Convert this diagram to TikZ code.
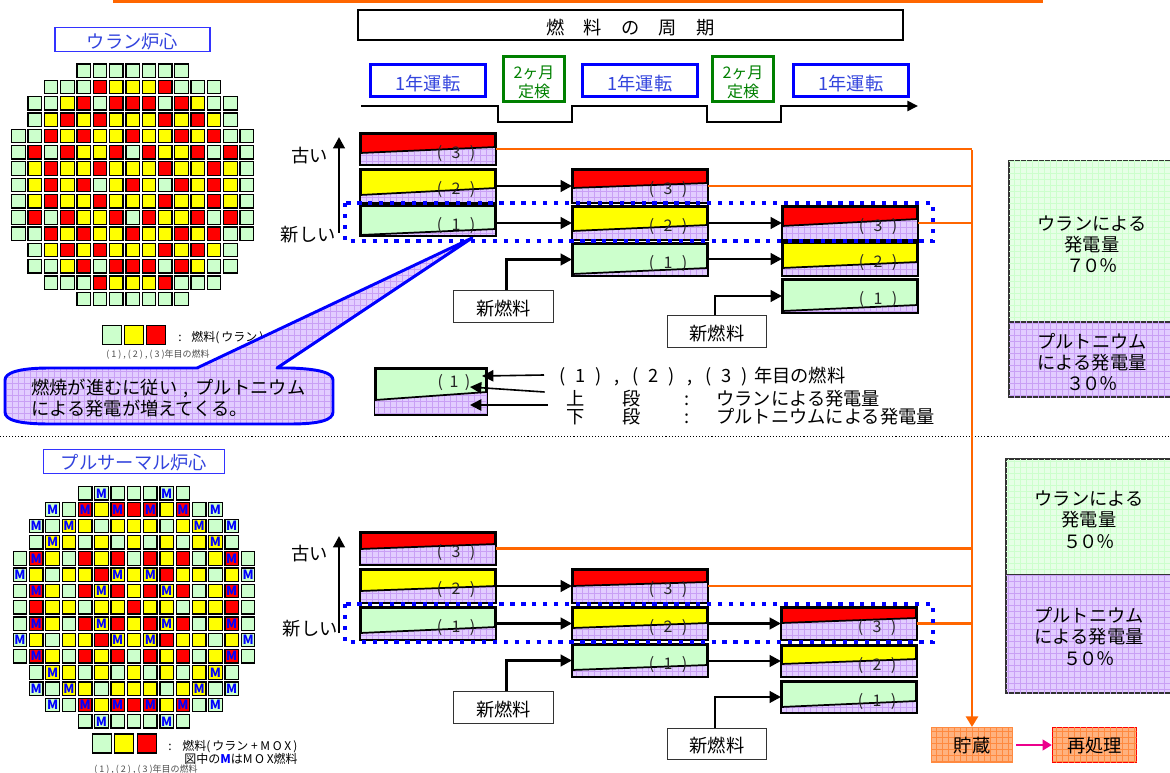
\documentclass[tikz,border=0pt]{standalone}
\usepackage{fontspec}
\setmainfont{Noto Sans CJK JP}
\usepackage{xcolor}
\usetikzlibrary{arrows.meta, patterns.meta, calc}
\definecolor{cOrange}    {HTML}{FF6600}
\definecolor{cBlue}      {HTML}{0000FF}
\definecolor{cTitleBlue} {HTML}{3344DD}
\definecolor{cOlive}     {HTML}{008000}
\definecolor{cGreen}     {HTML}{CCFFCC}
\definecolor{cPaleGreen} {HTML}{E6FFE6}
\definecolor{cGreenGrid} {HTML}{CCFFCC}
\definecolor{cYellow}    {HTML}{FFFF00}
\definecolor{cRed}       {HTML}{FF0000}
\definecolor{cPurple}    {HTML}{E2CDFF}
\definecolor{cPurpleGrid}{HTML}{C9A0F5}
\definecolor{cPeach}     {HTML}{FFB27F}
\definecolor{cPeachGrid} {HTML}{FF8A40}
\newcommand{\zc}[1]{\makebox[1em]{#1}}
\newcommand{\zp}[1]{\makebox[.9em]{#1}}
\newcommand{\zf}[1]{\makebox[1.03em]{#1}}
\newcommand{\zn}[1]{\makebox[.85em]{#1}}
\tikzset{
  gridfill/.style n args={3}{fill=#1,
    postaction={pattern={Lines[angle=0,distance=4.5pt,line width=.3pt]},pattern color=#2},
    postaction={pattern={Lines[angle=90,distance=4.5pt,line width=.3pt]},pattern color=#3}},
  gridpurple/.style={gridfill={cPurple}{cPurpleGrid}{cPurpleGrid}},
  gridgreen/.style={gridfill={cPaleGreen}{cGreenGrid}{cGreenGrid}},
  gridpeach/.style={gridfill={cPeach}{cPeachGrid}{cPeachGrid}},
  txtplain/.style={font=\fontsize{13.7}{16}\selectfont, inner sep=0pt},
  txtbig/.style={txtplain, text height=10.8pt, text depth=0pt},
  txtmid/.style={font=\fontsize{9}{11}\selectfont, inner sep=0pt, text height=7.5pt, text depth=0pt},
  txtsmall/.style={font=\fontsize{6.75}{8}\selectfont, inner sep=0pt, text=black!70, text height=5.5pt, text depth=0pt},
  cellbase/.style={draw=black, line width=.95pt, minimum size=10.1pt, inner sep=0pt},
  cellg/.style={cellbase, fill=cGreen},
  celly/.style={cellbase, fill=cYellow},
  cellr/.style={cellbase, fill=cRed},
  cellmark/.style={text=cBlue, font=\fontsize{9.5}{9.5}\selectfont\bfseries, inner sep=0pt},
  cellG/.style={cellg, label={[cellmark]center:M}},
  cellY/.style={celly, label={[cellmark]center:M}},
  cellR/.style={cellr, label={[cellmark]center:M}},
  keycell/.style={draw=black, line width=1.1pt, minimum size=14pt, inner sep=0pt},
  corelabel/.style={txtbig, draw=cBlue!80, line width=1.1pt, text=cTitleBlue, minimum height=18pt, text height=14pt},
  runbox/.style={txtbig, draw=cBlue, line width=2.2pt, text=cTitleBlue, minimum width=86pt, minimum height=24pt, text height=14.6pt},
  checkbox/.style={font=\fontsize{12}{14.3}\selectfont, inner sep=0pt, align=center, draw=cOlive,
    line width=1.8pt, text=cOlive, minimum width=46pt, minimum height=34pt},
  fuelcase/.style={draw=black, line width=1.5pt, inner sep=0pt, minimum width=100.5pt},
  fuelframe/.style={draw=black, line width=1.5pt},
  fuelsplit/.style={draw=black, line width=1.3pt},
  fuelnum/.style={font=\fontsize{12}{14}\selectfont, inner sep=0pt, text=black!85, text height=8.8pt, text depth=0pt},
  newfuel/.style={txtbig, draw=black!80, fill=white, line width=.9pt, minimum width=74.8pt, minimum height=23.5pt, text height=13pt},
  fuelarrow/.style={draw=black, line width=2.1pt, -{Triangle[length=8.5pt,width=8.5pt]}},
  thinarrow/.style={draw=black, line width=1.2pt, -{Triangle[length=8.5pt,width=8.5pt]}},
  spentline/.style={draw=cOrange, line width=2.2pt},
  loopdots/.style={draw=cBlue, line width=3pt, dash pattern=on 3.2pt off 5pt},
  sharebox/.style={txtplain, draw=black!80, line width=.9pt, align=center, text width=110pt,
    minimum width=124.5pt},
  planbox/.style={txtbig, line width=1pt, minimum height=26pt, minimum width=61pt},
}
\begin{document}
\begin{tikzpicture}[x=0.75pt, y=-0.75pt]
  \useasboundingbox (0,0) rectangle (1170,773);
  % top rule and divider
  \coordinate (ruleL) at (113,1.5);
  \coordinate (ruleR) at (1043,1.5);
  \draw[cOrange, line width=2.2pt] (ruleL) -- (ruleR);
  \coordinate (divL) at (0,436.5);
  \coordinate (divR) at (1170,436.5);
  \draw[black, line width=.7pt, dash pattern=on .8pt off 1.5pt] (divL) -- (divR);
  % uranium core
  \node[corelabel, minimum width=116pt] (coreU) at (132.5,39.5) {ウラン炉心};
  \foreach \rr/\cs/\cells in {
    0/4/{g,g,g,g,g,g,g},
    1/2/{g,g,g,r,y,y,y,r,g,g,g},
    2/1/{g,g,y,r,g,r,r,r,g,r,y,g,g},
    3/1/{g,y,r,y,r,y,y,y,r,y,r,y,g},
    4/0/{g,g,r,y,r,y,y,r,y,y,r,y,r,g,g},
    5/0/{g,r,g,r,y,y,r,g,r,y,y,r,g,r,g},
    6/0/{g,y,r,y,y,r,y,y,y,r,y,y,r,y,g},
    7/0/{g,y,r,y,r,g,y,r,y,g,r,y,r,y,g},
    8/0/{g,y,r,y,y,r,y,y,y,r,y,y,r,y,g},
    9/0/{g,r,g,r,y,y,r,g,r,y,y,r,g,r,g},
    10/0/{g,g,r,y,r,y,y,r,y,y,r,y,r,g,g},
    11/1/{g,y,r,y,r,y,y,y,r,y,r,y,g},
    12/1/{g,g,y,r,g,r,r,r,g,r,y,g,g},
    13/2/{g,g,g,r,y,y,y,r,g,g,g},
    14/4/{g,g,g,g,g,g,g}}{
    \foreach \cc [count=\ii from \cs] in \cells {
      \node[cell\cc] (u\rr-\ii) at ({18.5+16.3*\ii},{70.8+16.3*\rr}) {};
    }
  }
  \foreach \cc/\xx [count=\ii] in {cGreen/112, cYellow/134, cRed/156}{
    \node[keycell, fill=\cc] (keyU\ii) at (\xx,335) {};
  }
  \node[txtmid] (keyUdot) at (180,337) {:};
  \node[txtmid, anchor=west] (keyUtxt) at (191,337) {燃料(\,ウラン\,)};
  \node[txtsmall, anchor=west] (keyUyear) at (106,354) {( 1 ) , ( 2 ) , ( 3 )年目の燃料};
  % MOX core
  \node[corelabel, minimum width=136pt, text height=12.5pt] (coreM) at (134,461.5) {プルサーマル炉心};
  \foreach \rr/\cs/\cells in {
    0/4/{g,G,g,g,g,G,g},
    1/2/{G,g,R,y,R,r,R,y,R,g,G},
    2/1/{G,g,Y,y,g,y,y,y,g,y,Y,g,G},
    3/1/{g,Y,y,g,y,g,y,g,y,g,y,Y,g},
    4/0/{g,R,y,g,r,y,r,g,r,y,r,g,y,R,g},
    5/0/{G,y,g,y,y,r,Y,y,Y,r,y,y,g,y,G},
    6/0/{g,R,y,g,r,Y,r,y,r,Y,r,g,y,R,g},
    7/0/{g,r,y,y,g,y,y,r,y,y,g,y,y,r,g},
    8/0/{g,R,y,g,r,Y,r,y,r,Y,r,g,y,R,g},
    9/0/{G,y,g,y,y,r,Y,y,Y,r,y,y,g,y,G},
    10/0/{g,R,y,g,r,y,r,g,r,y,r,g,y,R,g},
    11/1/{g,Y,y,g,y,g,y,g,y,g,y,Y,g},
    12/1/{G,g,Y,y,g,y,y,y,g,y,Y,g,G},
    13/2/{G,g,R,y,R,r,R,y,R,g,G},
    14/4/{g,G,g,g,g,G,g}}{
    \foreach \cc [count=\ii from \cs] in \cells {
      \node[cell\cc] (m\rr-\ii) at ({20+16.29*\ii},{493.3+16.29*\rr}) {};
    }
  }
  \foreach \cc/\xx [count=\ii] in {cGreen/102, cYellow/124, cRed/147}{
    \node[keycell, fill=\cc] (keyM\ii) at (\xx,743.5) {};
  }
  \node[txtmid] (keyMdot) at (170,745) {:};
  \node[txtmid, anchor=west] (keyMtxt) at (182,745) {燃料(\,ウラン + M O X\,)};
  \node[txtmid, anchor=west] (keyMnote) at (184,758) {図中の\textcolor{cBlue}{\textbf{M}}はM O X燃料};
  \node[txtsmall, anchor=west] (keyMyear) at (94,769) {( 1 ) , ( 2 ) , ( 3 )年目の燃料};
  % fuel cycle header
  \node[txtbig, draw=black, line width=.9pt, minimum width=408.75pt, minimum height=22.5pt, text height=13.8pt] (cycle) at (630.5,25)
    {燃\hspace{1.05em}料\hspace{1.05em}の\hspace{1.05em}周\hspace{1.05em}期};
  \foreach \xx [count=\ii] in {428, 640, 851}{
    \node[runbox] (run\ii) at (\xx,80.5) {1年運転};
  }
  \foreach \xx [count=\ii] in {534, 743}{
    \node[checkbox] (check\ii) at (\xx,79) {\rule{0pt}{15pt}2ヶ月\\定検};
  }
  \coordinate (tlStart) at (361,106);
  \coordinate (tlEnd) at (918,106);
  \draw[black, line width=1.9pt, -{Triangle[length=8pt,width=7.5pt]}] (tlStart) -- (498,106) -- (498,122)
    -- (572,122) -- (572,106) -- (707,106) -- (707,122) -- (781,122) -- (781,106) -- (tlEnd);
  % fuel boxes
  \foreach \nm/\xx/\yt/\yb/\cc/\sl/\sr/\nn in {
    ua3/360/133/165/cRed/153/147/3, ua2/360/169/203/cYellow/195/188/2, ua1/360/205/236/cGreen/235/229/1,
    ub3/572/169/203/cRed/188/183/3, ub2/572/206/240/cYellow/231/225/2, ub1/572/243/276/cGreen/274/268/1,
    uc3/782/206/240/cRed/226/219/3, uc2/782/242/276/cYellow/268/262/2, uc1/782/279/313/cGreen/311/305/1,
    ma3/360/532/565/cRed/549/544/3, ma2/360/569/603/cYellow/591/586/2, ma1/360/607/640/cGreen/633/627/1,
    mb3/572/569/603/cRed/586/582/3, mb2/572/607/640/cYellow/628/623/2, mb1/572/644/677/cGreen/670/665/1,
    mc3/781/607/640/cRed/623/618/3, mc2/781/645/677/cYellow/664/659/2, mc1/781/681/713/cGreen/707/701/1}{
    \node[fuelcase, fill=\cc, minimum height={(\yb-\yt-2)*0.75pt}] (\nm) at ({\xx+68},{(\yt+\yb)/2}) {};
    \path[gridpurple] (\xx,\sl) -- ({\xx+136},\sr) -- ({\xx+136},\yb) -- (\xx,\yb) -- cycle;
    \draw[fuelsplit] (\xx,\sl) -- ({\xx+136},\sr);
    \draw[fuelframe] (\nm.north west) rectangle (\nm.south east);
    \node[fuelnum] (\nm-t) at ({\xx+96},{\yt+20}) {\zf{(}\zf{\nn}\zf{)}};
  }
  % new fuel
  \node[newfuel] (nfU1) at (503.5,306.5) {新燃料};
  \node[newfuel] (nfU2) at (717,331.5) {新燃料};
  \node[newfuel] (nfM1) at (503.5,707.5) {新燃料};
  \node[newfuel] (nfM2) at (717,744) {新燃料};
  \draw[fuelarrow] ([xshift=2pt]nfU1.north) |- (ub1.west);
  \draw[fuelarrow] ([xshift=-1.5pt]nfU2.north) |- (uc1.west);
  \draw[fuelarrow] ([xshift=2pt]nfM1.north) |- (mb1.west);
  \draw[fuelarrow] ([xshift=-1.5pt]nfM2.north) |- (mc1.west);
  % yearly moves
  \foreach \from/\to in {ua2/ub3, ua1/ub2, ub2/uc3, ub1/uc2, ma2/mb3, ma1/mb2, mb2/mc3, mb1/mc2}{
    \draw[fuelarrow] (\from.east |- \to.west) -- (\to.west);
  }
  % age arrows
  \node[txtbig, anchor=east] (oldU) at (328,155) {古い};
  \node[txtbig, anchor=east] (newU) at (336,234) {新しい};
  \node[txtbig, anchor=east] (oldM) at (328,553) {古い};
  \node[txtbig, anchor=east] (newM) at (338,628) {新しい};
  \coordinate (ageUa) at (339,233);
  \coordinate (ageUb) at (339,137);
  \coordinate (ageMa) at (339,633);
  \coordinate (ageMb) at (339,536);
  \draw[fuelarrow] (ageUa) -- (ageUb);
  \draw[fuelarrow] (ageMa) -- (ageMb);
  % spent fuel lines
  \node[planbox, gridpeach, draw=cPeachGrid, text=black] (store) at (972,745) {貯蔵};
  \node[planbox, gridpeach, draw=cRed, text=black, minimum width=63pt] (repro) at (1094.5,745) {再処理};
  \coordinate (trunk) at (972,150);
  \draw[spentline, -{Triangle[length=8pt,width=9pt]}] (trunk) -- (store.north);
  \foreach \nm in {ua3, ub3, uc3, ma3, mb3, mc3}{
    \draw[spentline] (\nm.east) -- (\nm.east -| trunk);
  }
  \draw[draw=magenta, line width=1.9pt, -{Triangle[length=7pt,width=8pt]}] ([xshift=2pt]store.east) -- (repro.west);
  % this year's core
  \coordinate (dotUa) at (345,203);
  \coordinate (dotUb) at (933,241);
  \coordinate (dotMa) at (345,604);
  \coordinate (dotMb) at (933,642);
  \draw[loopdots] (dotUa) rectangle (dotUb);
  \draw[loopdots] (dotMa) rectangle (dotMb);
  % callout
  \path[gridpurple] (197,368) -- (472,238) -- (277,368) -- (290,368) .. controls (320,369) and (333,373) .. (333,380)
    -- (333,412) .. controls (333,420) and (320,424) .. (290,424) -- (50,424)
    .. controls (18,424) and (5,420) .. (5,412) -- (5,380) .. controls (5,373) and (18,368) .. (50,368) -- cycle;
  \draw[draw=cBlue, line width=2.2pt, line join=round] (197,368) -- (472,238) -- (277,368) -- (290,368) .. controls (320,369) and (333,373) .. (333,380)
    -- (333,412) .. controls (333,420) and (320,424) .. (290,424) -- (50,424)
    .. controls (18,424) and (5,420) .. (5,412) -- (5,380) .. controls (5,373) and (18,368) .. (50,368) -- cycle;
  \node[txtbig, anchor=west] (burnA) at (31,387) {燃焼が進むに従い\zc{,}プルトニウム};
  \node[txtbig, anchor=west] (burnB) at (31,408) {による発電が増えてくる。};
  % how to read a fuel box
  \node[fuelcase, minimum width=83pt, minimum height=34pt, fill=cGreen] (lgBox) at (431,391.5) {};
  \path[gridpurple] (375,400) -- (487,392) -- (487,415) -- (375,415) -- cycle;
  \draw[fuelsplit] (375,400) -- (487,392);
  \draw[fuelframe, line width=1.1pt] (lgBox.north west) rectangle (lgBox.south east);
  \node[fuelnum] (lgBox-t) at (454,382) {\zn{(}\zn{1}\zn{)}};
  \coordinate (lgTipA) at (482,376);
  \coordinate (lgTipB) at (470,387);
  \coordinate (lgTipC) at (470,405);
  \node[txtbig, anchor=west] (lgYear) at (553,375)
    {\zc{(}\zc{1}\zc{)}\zc{,}\zc{(}\zc{2}\zc{)}\zc{,}\zc{(}\zc{3}\zc{)}年目の燃料};
  \foreach \yy/\up/\body [count=\ii] in {398/上/ウランによる発電量, 416/下/プルトニウムによる発電量}{
    \node[txtbig] (lgUp\ii) at (576,\yy) {\up};
    \node[txtbig] (lgCol\ii) at (632,\yy) {段};
    \node[txtbig] (lgDot\ii) at (687,\yy) {:};
    \node[txtbig, anchor=west] (lgTxt\ii) at (716,\yy) {\body};
  }
  \draw[thinarrow] ([xshift=-6.75pt]lgYear.west) -- (lgTipA);
  \draw[thinarrow] ([xshift=-16.5pt,yshift=4.5pt]lgUp1.west) -- (lgTipB);
  \draw[thinarrow] ([xshift=-14.25pt,yshift=-5.25pt]lgUp1.west) -- (lgTipC);
  % share of output
  \node[sharebox, gridgreen, minimum height=120.75pt] (shareUa) at (1092,241.5)
    {\rule{0pt}{15pt}ウランによる\\発電量\\\zp{７}\zp{０}\zp{％}};
  \node[sharebox, gridpurple, minimum height=56.25pt] (shareUb) at (1092,359.5)
    {\rule{0pt}{15pt}プルトニウム\\による発電量\\\zp{３}\zp{０}\zp{％}};
  \node[sharebox, gridgreen, minimum height=87pt] (shareMa) at (1089,517)
    {\rule{0pt}{15pt}ウランによる\\発電量\\\zp{５}\zp{０}\zp{％}};
  \node[sharebox, gridpurple, minimum height=88.5pt] (shareMb) at (1089,634)
    {\rule{0pt}{15pt}プルトニウム\\による発電量\\\zp{５}\zp{０}\zp{％}};
\end{tikzpicture}
\end{document}
